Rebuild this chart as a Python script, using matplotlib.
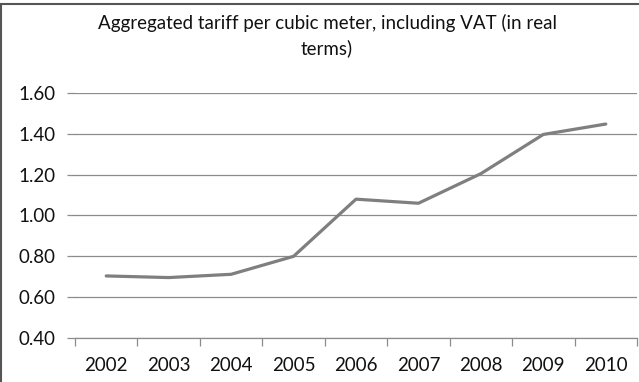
import matplotlib
matplotlib.use("Agg")
import matplotlib.pyplot as plt
from matplotlib.patches import Rectangle

years = ["2002", "2003", "2004", "2005", "2006", "2007", "2008", "2009", "2010"]
tariff = [0.704, 0.696, 0.712, 0.800, 1.080, 1.060, 1.205, 1.397, 1.448]
yticks = [0.40, 0.60, 0.80, 1.00, 1.20, 1.40, 1.60]
title_lines = ["Aggregated tariff per cubic meter, including VAT (in real", "terms)"]

plt.rcParams['font.family'] = ['Lato', 'DejaVu Sans']

fig = plt.figure(figsize=(6.39, 3.82), dpi=100)
fig.patch.set_facecolor('white')
ax = fig.add_axes([75/639, 1 - 338/382, (637 - 75)/639, (338 - 93)/382])

x = list(range(len(years)))
ax.plot(x, tariff, color='#7f7f7f', lw=2.3, solid_joinstyle='round', solid_capstyle='round', zorder=3)

ax.set_xlim(-0.5, len(years) - 0.5)
ax.set_ylim(0.4, 1.6)
ax.set_yticks(yticks)
ax.set_yticklabels([f"{v:.2f}" for v in yticks], fontsize=13.5, color='#111111')
ax.yaxis.grid(True, color='#8c8c8c', lw=0.9)
ax.set_axisbelow(True)

ax.set_xticks(x)
ax.set_xticklabels(years, fontsize=13.5, color='#111111')
ax.set_xticks([i - 0.5 for i in range(len(years) + 1)], minor=True)
ax.tick_params(axis='x', which='major', length=0, pad=14)
ax.tick_params(axis='x', which='minor', length=6, color='#8c8c8c', width=0.9)
ax.tick_params(axis='y', length=6, color='#8c8c8c', width=0.9, pad=8)

for s in ['top', 'right', 'left']:
    ax.spines[s].set_visible(False)
ax.spines['bottom'].set_color('#8c8c8c')
ax.spines['bottom'].set_linewidth(0.9)

fig.text(0.512, 1 - 23/382, title_lines[0], ha='center', va='center', fontsize=13.5, color='#111111')
fig.text(0.512, 1 - 48/382, title_lines[1], ha='center', va='center', fontsize=13.5, color='#111111')

fig.patches.append(Rectangle((0.002, -0.01), 1.1, 1 - 0.002 - 3/382 + 0.01, transform=fig.transFigure,
                             fill=False, edgecolor='#555555', lw=1.5))

fig.savefig("out.png", dpi=100)
